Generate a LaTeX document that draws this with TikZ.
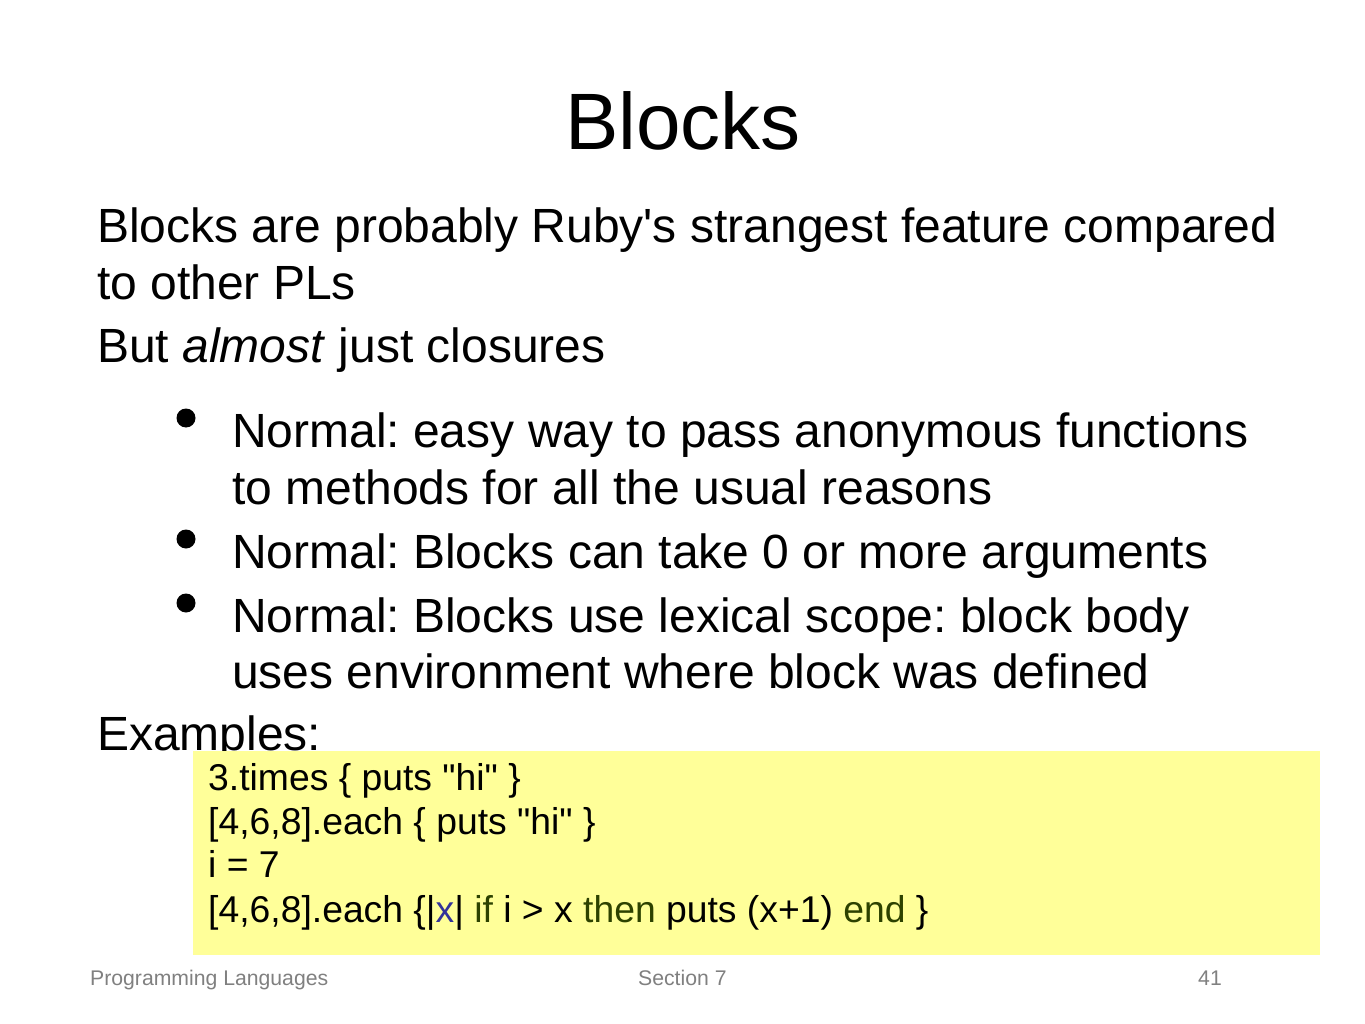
\documentclass[tikz,border=0pt]{standalone}
\usepackage{fontspec}
\setmainfont{Liberation Sans}
\frenchspacing
\definecolor{codebg}{HTML}{FFFF99}
\definecolor{kwgreen}{HTML}{2D4200}
\definecolor{varblue}{HTML}{333399}
\definecolor{footgray}{HTML}{808080}
\tikzset{
  txt/.style={inner sep=0pt, outer sep=0pt, anchor=base west, font=\fontsize{48}{58}\selectfont},
  title/.style={inner sep=0pt, anchor=base, font=\fontsize{80}{96}\selectfont},
  bul/.style={circle, fill=black, inner sep=0pt, minimum size=19pt},
  code/.style={inner sep=0pt, anchor=base west, font=\fontsize{37.3}{44}\selectfont},
  foot/.style={inner sep=0pt, anchor=base west, text=footgray, font=\fontsize{21.2}{25}\selectfont},
}
\begin{document}
\begin{tikzpicture}[x=1pt,y=-1pt]
\useasboundingbox (0,0) rectangle (1365,1024);
\fill[white] (0,0) rectangle (1365,1024);
\node[title] (t) at (683,150) {Blocks};
\node[txt] (l1) at (97,243) {Blocks are probably Ruby\textquotesingle s strangest feature compared};
\node[txt] (l2) at (97,300) {to other PLs};
\node[txt] (l3) at (97,362) {But \textit{almost} just closures};
\node[bul] (b1) at (186,418) {};
\node[txt] (l4) at (232,447) {Normal: easy way to pass anonymous functions};
\node[txt] (l5) at (232,504) {to methods for all the usual reasons};
\node[bul] (b2) at (186,539) {};
\node[txt] (l6) at (232,568) {Normal: Blocks can take 0 or more arguments};
\node[bul] (b3) at (186,603) {};
\node[txt] (l7) at (232,632) {Normal: Blocks use lexical scope: block body};
\node[txt] (l8) at (232,688) {uses environment where block was defined};
\node[txt] (l9) at (97,750) {Examples:};
\fill[codebg] (193,751) rectangle (1320,955);
\node[code] (c1) at (208,790) {3.times \{ puts \textquotedbl hi\textquotedbl\ \}};
\node[code] (c2) at (208,834) {[4,6,8].each \{ puts \textquotedbl hi\textquotedbl\ \}};
\node[code] (c3) at (208,877) {i = 7};
\node[code] (c4) at (208,922) {[4,6,8].each \{|\textcolor{varblue}{x}| \textcolor{kwgreen}{if} i > x \textcolor{kwgreen}{then} puts (x+1) \textcolor{kwgreen}{end} \}};
\node[foot] (f1) at (90,985) {Programming Languages};
\node[foot] (f2) at (638,985) {Section 7};
\node[foot] (f3) at (1198,985) {41};
\end{tikzpicture}
\end{document}
